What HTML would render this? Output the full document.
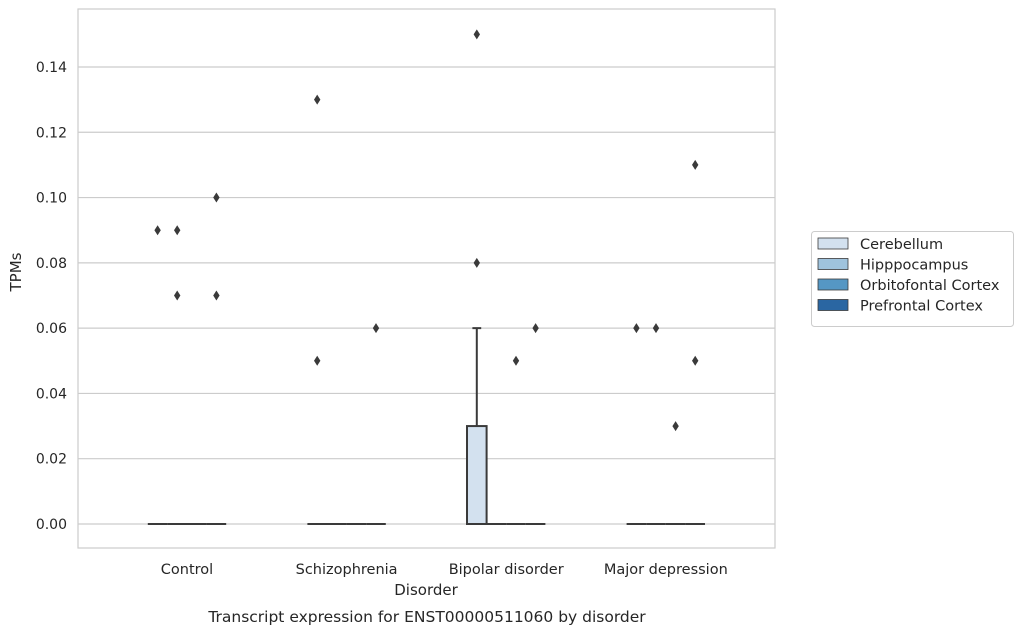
<!DOCTYPE html>
<html><head><meta charset="utf-8"><style>
body{margin:0;background:#fff;}
svg{display:block;font-family:"DejaVu Sans","Liberation Sans",sans-serif;}
</style></head><body>
<svg id="chart" width="1023" height="634">
<rect x="78" y="9" width="697" height="539" fill="#fff" stroke="#cccccc" stroke-width="1.2"/>
<g id="grid"></g><g id="ticks"></g><g id="marks"></g><g id="xlabels"></g>
<text x="21" y="272" font-size="15" fill="#262626" text-anchor="middle" transform="rotate(-90 21 272)">TPMs</text>
<text x="426" y="595" font-size="15" fill="#262626" text-anchor="middle">Disorder</text>
<text x="427" y="622" font-size="15.5" fill="#262626" text-anchor="middle">Transcript expression for ENST00000511060 by disorder</text>
<g>
<rect x="811.5" y="231.5" width="202" height="95" rx="3" fill="#fff" stroke="#cccccc"/>
<g id="legend"></g>
</g>
</svg>
<script>
const categories=["Control","Schizophrenia","Bipolar disorder","Major depression"];
const regions=["Cerebellum","Hipppocampus","Orbitofontal Cortex","Prefrontal Cortex"];
const colors=["#d3e1ef","#9fc3dd","#5597c4","#2a66a2"];
const yTicks=[0,0.02,0.04,0.06,0.08,0.10,0.12,0.14];
// boxes: [category, region, q1, median, q3, whiskerLow, whiskerHigh]
const boxes=[
[0,0,0,0,0,0,0],[0,1,0,0,0,0,0],[0,2,0,0,0,0,0],[0,3,0,0,0,0,0],
[1,0,0,0,0,0,0],[1,1,0,0,0,0,0],[1,2,0,0,0,0,0],[1,3,0,0,0,0,0],
[2,0,0,0,0.03,0,0.06],[2,1,0,0,0,0,0],[2,2,0,0,0,0,0],[2,3,0,0,0,0,0],
[3,0,0,0,0,0,0],[3,1,0,0,0,0,0],[3,2,0,0,0,0,0],[3,3,0,0,0,0,0]];
// outliers: [category, region, value]
const outliers=[
[0,0,0.09],[0,1,0.09],[0,1,0.07],[0,3,0.10],[0,3,0.07],
[1,0,0.13],[1,0,0.05],[1,3,0.06],
[2,0,0.15],[2,0,0.08],[2,2,0.05],[2,3,0.06],
[3,0,0.06],[3,1,0.06],[3,2,0.03],[3,3,0.11],[3,3,0.05]];
const NS="http://www.w3.org/2000/svg";
const y=v=>524-v/0.02*65.29;
const xc=i=>187+i*159.6;
const bw=19.6;
const xb=(c,r)=>xc(c)+(r-1.5)*bw;
function mk(tag,attrs,parent){const e=document.createElementNS(NS,tag);for(const k in attrs)e.setAttribute(k,attrs[k]);document.getElementById(parent).appendChild(e);return e;}
yTicks.forEach(t=>{
const l=mk('line',{x1:78,x2:775,y1:y(t),y2:y(t),stroke:'#cccccc','stroke-width':1.2},'grid');


const tx=mk('text',{x:67,y:y(t)+5,'font-size':14,fill:'#262626','text-anchor':'end'},'ticks');
tx.textContent=t.toFixed(2);


});
categories.forEach((c,i)=>{
const tx=mk('text',{x:xc(i),y:574,'font-size':14.5,fill:'#262626','text-anchor':'middle'},'xlabels');
tx.textContent=c;


});
boxes.forEach(b=>{
const [c,r,q1,md,q3,wl,wh]=b;const cx=xb(c,r);const x0=cx-bw/2;
const g=mk('g',{},'marks');


const st={stroke:'#3a3a3a','stroke-width':2,fill:'none'};
if(wh>q3){const w=document.createElementNS(NS,'line');Object.entries({x1:cx,x2:cx,y1:y(q3),y2:y(wh),...st}).forEach(([k,v])=>w.setAttribute(k,v));g.appendChild(w);
const cp=document.createElementNS(NS,'line');Object.entries({x1:cx-bw/4+0.5,x2:cx+bw/4-0.5,y1:y(wh),y2:y(wh),...st}).forEach(([k,v])=>cp.setAttribute(k,v));g.appendChild(cp);}
const rc=document.createElementNS(NS,'rect');Object.entries({x:x0,y:y(q3),width:bw,height:Math.max(0,y(q1)-y(q3)),...st,fill:colors[r]}).forEach(([k,v])=>rc.setAttribute(k,v));g.appendChild(rc);
const m=document.createElementNS(NS,'line');Object.entries({x1:x0,x2:x0+bw,y1:y(md),y2:y(md),...st}).forEach(([k,v])=>m.setAttribute(k,v));g.appendChild(m);
});
outliers.forEach(o=>{
const cx=xb(o[0],o[1]),cy=y(o[2]);
const p=mk('path',{d:`M${cx} ${cy-5}L${cx+3.2} ${cy}L${cx} ${cy+5}L${cx-3.2} ${cy}Z`,fill:'#3a3a3a'},'marks');


});
regions.forEach((r,i)=>{
const yy=238+i*20.5;
const rc=mk('rect',{x:818,y:yy,width:30,height:11,fill:colors[i],stroke:'#3a3a3a','stroke-width':0.8},'legend');


const t=mk('text',{x:860,y:yy+11,'font-size':14.5,fill:'#262626'},'legend');
t.textContent=r;


});
</script>
</body></html>
